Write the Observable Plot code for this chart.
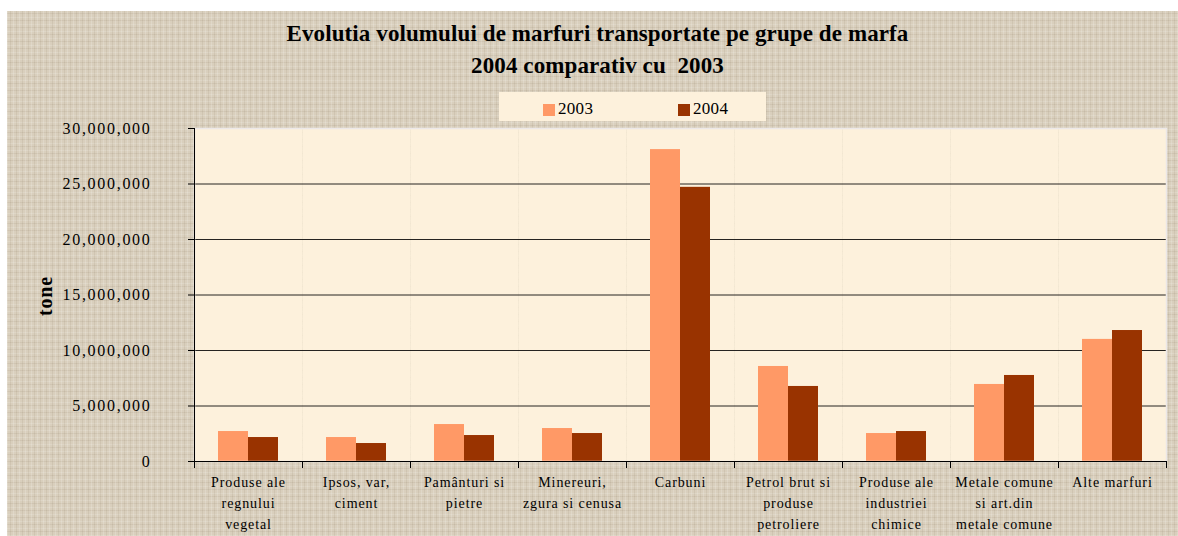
<!DOCTYPE html>
<html><head><meta charset="utf-8">
<script src="https://cdn.jsdelivr.net/npm/d3@7"></script>
<script src="https://cdn.jsdelivr.net/npm/@observablehq/plot@0.6"></script>
<style>
body{margin:0;background:#fff;}
#chart{position:relative;width:1178px;height:536px;overflow:hidden;font-family:"Liberation Serif","Times New Roman",serif;color:#000;}
#bg{position:absolute;left:7px;top:11px;right:0;bottom:0;background-color:#d9cfbd;
 background-image:repeating-linear-gradient(90deg,rgba(255,255,255,.16) 0 1px,transparent 1px 3px,rgba(110,90,60,.09) 3px 4px,transparent 4px 6px),
 repeating-linear-gradient(0deg,rgba(255,255,255,.14) 0 1px,transparent 1px 4px,rgba(110,90,60,.09) 4px 5px,transparent 5px 7px);}
#header{position:relative;height:118px;}
#title{position:absolute;left:0;right:0;top:18px;text-align:center;font-weight:bold;font-size:23px;line-height:32px;white-space:pre;letter-spacing:0.1px;padding-left:17px;}
#legend{position:absolute;left:499px;top:92px;width:267px;height:29px;background:#fdf1dc;}
.sw{position:absolute;top:12px;width:12px;height:12px;}
.lt{position:absolute;top:7px;font-size:17px;line-height:20px;letter-spacing:0.3px;}
#ylab{position:absolute;left:45px;top:296px;transform:translate(-50%,-50%) rotate(-90deg);font-weight:bold;font-size:20px;letter-spacing:0.8px;white-space:nowrap;}
#plot{position:relative;}
g[aria-label="y-axis tick label"]{letter-spacing:1.7px}
g[aria-label="fx-axis tick label"]{letter-spacing:0.9px}
</style>
</head>
<body>
<div id="chart">
  <div id="bg"></div>
  <div id="header">
    <div id="title"></div>
    <div id="legend"></div>
  </div>
  <div id="ylab"></div>
  <div id="plot"></div>
</div>
<script>
const titleLines = ["Evolutia volumului de marfuri transportate pe grupe de marfa", "2004 comparativ cu  2003"];
const yLabel = "tone";
const categories = [
  "Produse ale\nregnului\nvegetal",
  "Ipsos, var,\nciment",
  "Pamânturi si\npietre",
  "Minereuri,\nzgura si cenusa",
  "Carbuni",
  "Petrol brut si\nproduse\npetroliere",
  "Produse ale\nindustriei\nchimice",
  "Metale comune\nsi art.din\nmetale comune",
  "Alte marfuri"
];
const years = ["2003", "2004"];
const colors = ["#ff9966", "#993300"];
const v2003 = [2700000, 2160000, 3330000, 2970000, 28100000, 8560000, 2520000, 6940000, 11000000];
const v2004 = [2160000, 1620000, 2340000, 2520000, 24700000, 6760000, 2700000, 7750000, 11800000];
const yTicks = [0, 5000000, 10000000, 15000000, 20000000, 25000000, 30000000];

document.getElementById("title").textContent = titleLines.join("\n");
document.getElementById("ylab").textContent = yLabel;
const legend = document.getElementById("legend");
const legendX = [44, 179];
years.forEach((y, i) => {
  const sw = document.createElement("div");
  sw.className = "sw"; sw.style.left = legendX[i] + "px"; sw.style.background = colors[i];
  const t = document.createElement("div");
  t.className = "lt"; t.style.left = (legendX[i] + 15) + "px"; t.textContent = y;
  legend.appendChild(sw); legend.appendChild(t);
});

const data = categories.flatMap((c, i) => [
  {cat: c, year: years[0], value: v2003[i]},
  {cat: c, year: years[1], value: v2004[i]}
]);

const plotH = 418, mTop = 10, mBottom = 75;
const chart = Plot.plot({
  width: 1178, height: plotH,
  marginTop: mTop, marginBottom: mBottom, marginLeft: 190, marginRight: 9,
  style: {background: "transparent", fontFamily: "'Liberation Serif', serif", color: "#000"},
  fx: {domain: categories, padding: 0, label: null},
  x: {domain: years, paddingInner: 0, paddingOuter: 0.75, axis: null},
  y: {domain: [0, 30000000]},
  color: {domain: years, range: colors},
  marks: [
    Plot.frame({fill: "#fdf1dc"}),
    Plot.ruleY(yTicks.filter(d => d > 0 && d < 30000000), {stroke: "#000", strokeOpacity: 0.85}),
    Plot.barY(data, {fx: "cat", x: "year", y: "value", fill: "year"}),
    Plot.frame({facet: "super", stroke: "#ece8e8", strokeWidth: 1.5}),
    Plot.ruleY([0], {stroke: "#000"}),
    Plot.frame({anchor: "right", stroke: "#000", insetTop: plotH - mTop - mBottom, insetBottom: -6}),
    Plot.frame({facet: "super", anchor: "left", stroke: "#000", insetBottom: -6}),
    Plot.axisY({ticks: yTicks, tickFormat: d3.format(","), tickSize: 6, tickPadding: 37, fontSize: 16, label: null}),
    Plot.axisFx({anchor: "bottom", tickSize: 0, tickPadding: 11, fontSize: 14, lineHeight: 1.5, label: null})
  ]
});
document.getElementById("plot").appendChild(chart);
</script>
</body></html>
